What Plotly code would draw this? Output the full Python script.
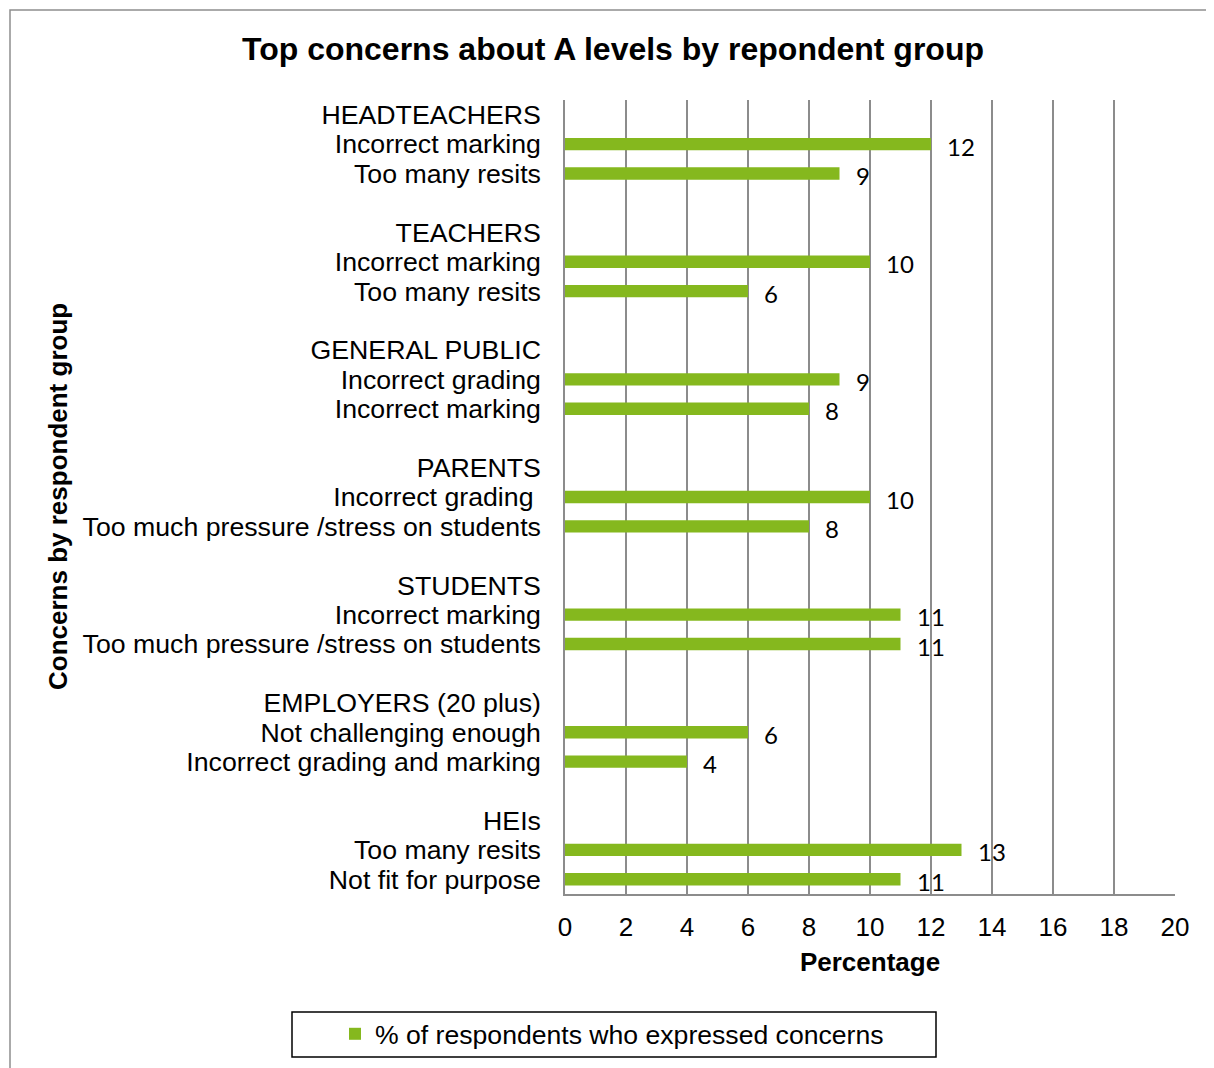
import plotly.graph_objects as go

groups = ["HEADTEACHERS", "TEACHERS", "GENERAL PUBLIC", "PARENTS", "STUDENTS",
          "EMPLOYERS (20 plus)", "HEIs"]
concerns = [
    ["Incorrect marking", "Too many resits"],
    ["Incorrect marking", "Too many resits"],
    ["Incorrect grading", "Incorrect marking"],
    ["Incorrect grading\u00a0", "Too much pressure /stress on students"],
    ["Incorrect marking", "Too much pressure /stress on students"],
    ["Not challenging enough", "Incorrect grading and marking"],
    ["Too many resits", "Not fit for purpose"],
]
values = [[12, 9], [10, 6], [9, 8], [10, 8], [11, 11], [6, 4], [13, 11]]
x_ticks = [0, 2, 4, 6, 8, 10, 12, 14, 16, 18, 20]

GREEN = "#85B81E"
GRID = "#8C8C8C"
FONT = "Liberation Sans, Arial, sans-serif"

# Build rows: group header, two concerns, blank spacer
tickvals, ticktext, bar_y, bar_x = [], [], [], []
row = 0
for g, cs, vs in zip(groups, concerns, values):
    tickvals.append(row); ticktext.append(g)
    row += 1
    for c, v in zip(cs, vs):
        tickvals.append(row); ticktext.append(c)
        bar_y.append(row); bar_x.append(v)
        row += 1
    row += 1
n_rows = max(tickvals)

OFF = 8  # page body margin
W, H = 1214 - OFF, 1068 - OFF
L, R, T, B = 565 - OFF, 1175 - OFF, 100 - OFF, 894 - OFF

def px(x):  # page x -> paper
    return (x - OFF - L) / (R - L)

def py(y):  # page y -> paper
    return (B - (y - OFF)) / (B - T)

fig = go.Figure()
fig.add_trace(go.Bar(
    x=bar_x, y=bar_y, orientation="h", width=0.42,
    marker=dict(color=GREEN, line=dict(width=0)),
    name="% of respondents who expressed concerns",
    showlegend=True,
))

for xv, yv in zip(bar_x, bar_y):
    fig.add_annotation(x=xv, y=yv, text=str(xv), showarrow=False,
                       xanchor="left", yanchor="middle", xshift=14, yshift=-2,
                       font=dict(family="Lato, Open Sans, sans-serif", size=24, color="#000"))

# outer chart border
fig.add_shape(type="rect", xref="paper", yref="paper",
              x0=px(10), x1=px(1212), y0=py(1080), y1=py(10),
              line=dict(color="#8E8E8E", width=1.5), layer="below")
# legend border
fig.add_shape(type="rect", xref="paper", yref="paper",
              x0=px(292), x1=px(936), y0=py(1057), y1=py(1012),
              line=dict(color="#000", width=1.5))

fig.add_annotation(text="<b>Concerns by respondent group</b>", xref="paper", yref="paper",
                   x=px(58), y=py(497), xanchor="center", yanchor="middle",
                   textangle=-90, showarrow=False,
                   font=dict(family=FONT, size=26, color="#000"))

fig.update_layout(
    width=W, height=H,
    margin=dict(l=L, r=W - R, t=T, b=H - B, autoexpand=False),
    paper_bgcolor="white", plot_bgcolor="white",
    font=dict(family=FONT, color="#000"),
    title=dict(text="<b>Top concerns about A levels by repondent group</b>",
               x=(613 - OFF) / W, xanchor="center", y=1 - (49 - OFF) / H, yanchor="middle",
               font=dict(family=FONT, size=32, color="#000")),
    xaxis=dict(range=[0, 20], tickvals=x_ticks, ticktext=[str(t) for t in x_ticks],
               showgrid=True, gridcolor=GRID, gridwidth=1.5, automargin=False,
               showline=True, linecolor=GRID, linewidth=1.5, zeroline=False,
               ticks="", ticklabelstandoff=9,
               tickfont=dict(family=FONT, size=26, color="#000"),
               title=dict(text="<b>Percentage</b>", standoff=12,
                          font=dict(family=FONT, size=26, color="#000"))),
    yaxis=dict(range=[n_rows + 0.5, -0.5], tickvals=tickvals, ticktext=ticktext,
               showgrid=False, showline=True, linecolor=GRID, linewidth=1.5,
               zeroline=False, ticks="", ticklabelstandoff=17, automargin=False,
               tickfont=dict(family=FONT, size=26.7, color="#000")),
    legend=dict(orientation="h", x=px(335), xanchor="left", y=py(1034), yanchor="middle",
                bgcolor="rgba(0,0,0,0)", borderwidth=0,
                font=dict(family=FONT, size=26.6, color="#000")),
    showlegend=True,
    bargap=0.5,
)

fig.write_html("out.html")
